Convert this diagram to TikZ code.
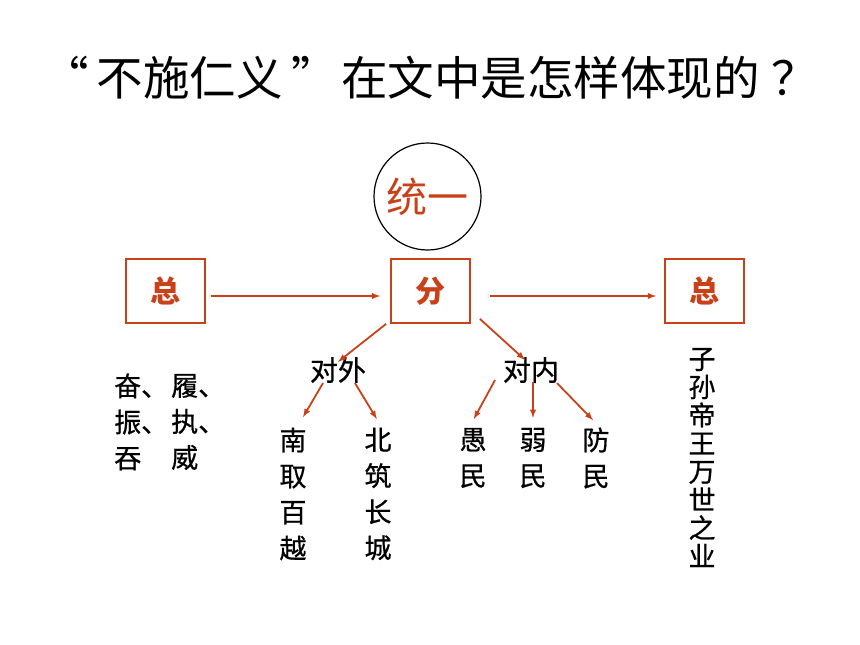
\documentclass[tikz,border=0pt]{standalone}
\usepackage{fontspec}
\newfontfamily\cjk{Noto Sans CJK SC}
\newfontfamily\cjkm[FakeBold=0.7]{Noto Sans CJK SC}
\definecolor{fenred}{RGB}{200,65,25}

\begin{document}
\begin{tikzpicture}[x=1pt, y=-1pt,
        box/.style={draw=fenred, line width=1.8pt, minimum width=79pt, minimum height=64pt, text=fenred, font=\cjk\bfseries\fontsize{30}{30}\selectfont},
        arr/.style={-latex, fenred, line width=1.8pt},
        word/.style={inner sep=0pt, align=center, font=\cjkm\fontsize{27}{36}\selectfont},
        tight/.style={inner sep=0pt, align=center, font=\cjkm\fontsize{27}{28.2}\selectfont}]
        \useasboundingbox (0, 0) rectangle (860, 645);
        \node[inner sep=0pt, font=\cjk\fontsize{46.5}{46.5}\selectfont] (title) at (428.5, 78)
            {\makebox[46.5pt][r]{“\hspace{8pt}}不施仁义\makebox[46.5pt][l]{\hspace{9pt}”}\hspace{12pt}在文中是怎样体现的\makebox[46.5pt][l]{\hspace{12pt}？}};
        \node[circle, draw, line width=1.2pt, minimum size=107pt, inner sep=0pt, text=fenred, font=\cjk\fontsize{41}{41}\selectfont] (unify) at (427.5, 196.5) {统一};
        \node[box] (zongL) at (165.5, 291) {总};
        \node[box] (fen) at (430.5, 291) {分};
        \node[box] (zongR) at (704.5, 291) {总};
        \draw[arr, shorten <=5pt, shorten >=10pt] ([yshift=-5pt]zongL.east) -- ([yshift=-5pt]fen.west);
        \draw[arr, shorten <=19pt, shorten >=8pt] ([yshift=-5pt]fen.east) -- ([yshift=-5pt]zongR.west);
        \node[word, font=\cjkm\fontsize{28}{28}\selectfont] (wai) at (338, 370) {对外};
        \node[word, font=\cjkm\fontsize{28}{28}\selectfont] (nei) at (531, 370) {对内};
        \draw[arr] ([xshift=-4pt]fen.south west) -- ([yshift=-5pt]wai.north);
        \draw[arr] ([xshift=9pt, yshift=5pt]fen.south east) -- ([xshift=-6pt, yshift=-3pt]nei.north);
        % 对外
        \node[word] (nan) at (293, 494) {南\\取\\百\\越};
        \node[word] (bei) at (378, 494) {北\\筑\\长\\城};
        \draw[arr, shorten >=12pt] ([xshift=-15pt]wai.south) -- ([xshift=4pt]nan.north);
        \draw[arr, shorten >=10pt] ([xshift=17pt]wai.south) -- ([xshift=4pt]bei.north);
        % 对内
        \node[word] (yu) at (473, 458) {愚\\民};
        \node[word] (ruo) at (533, 458) {弱\\民};
        \node[word] (fang) at (596, 458) {防\\民};
        \draw[arr, shorten >=10pt] ([xshift=-36pt, yshift=3pt]nei.south) -- ([xshift=-4pt]yu.north);
        \draw[arr, shorten >=10pt] ([xshift=2pt, yshift=1pt]nei.south) -- (ruo.north);
        \draw[arr, shorten >=10pt] ([xshift=26pt]nei.south) -- ([xshift=4pt]fang.north);
        % 左右两边
        \node[word, align=left, anchor=west] (fenA) at (114, 422) {奋、\\振、\\吞};
        \node[word, align=left, anchor=west] (fenB) at (171, 422) {履、\\执、\\威};
        \node[tight] (zisun) at (702, 457.5) {子\\孙\\帝\\王\\万\\世\\之\\业};
    \end{tikzpicture}
\end{document}
